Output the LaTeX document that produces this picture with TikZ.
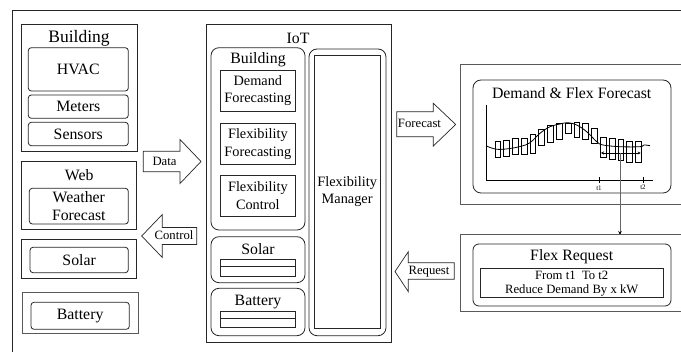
\documentclass[tikz,border=0pt]{standalone}
\usepackage{fontspec}
\setmainfont{Liberation Serif}
\usetikzlibrary{arrows.meta}
\begin{document}
\begin{tikzpicture}[x=1pt,y=-1pt,
  sq/.style={draw=black!85, line width=0.8pt, inner sep=0pt, outer sep=0pt},
  rnd/.style={sq, rounded corners=3pt},
  rndb/.style={sq, rounded corners=8pt},
  lbl/.style={inner sep=0pt, outer sep=0pt, align=center, font=\fontsize{15.8}{18.3}\selectfont},
  mid/.style={lbl, font=\fontsize{14.3}{17.7}\selectfont},
  sml/.style={lbl, font=\fontsize{12.7}{15.3}\selectfont},
  blockarrow/.style={draw=black!85, line width=0.7pt, fill=white},
  graybox/.style={draw=black!65, line width=1pt}]
\useasboundingbox (0,0) rectangle (681,352);
\fill[white] (0,0) rectangle (681,352);
\clip (0,0) rectangle (681,352);

% outer frame
\draw[sq] (12,360) -- (12,10) -- (690,10);

% ---------- left column ----------
\node[sq, minimum width=116pt, minimum height=127.4pt] (bld) at (79,88) {};
\node[lbl, font=\fontsize{17.5}{20}\selectfont] (bldt) at (79,38.5) {Building};
\node[rnd, minimum width=100pt, minimum height=43.3pt] (hvac) at (78.3,69.35) {};
\node[lbl] at (hvac) {HVAC};
\node[rnd, minimum width=100pt, minimum height=23.3pt] (meters) at (78.3,106.65) {};
\node[lbl] at (meters) {Meters};
\node[rnd, minimum width=100pt, minimum height=23.4pt] (sensors) at (78.3,134) {};
\node[lbl] at (sensors) {Sensors};

\node[sq, minimum width=115pt, minimum height=68.3pt] (web) at (79.2,195.15) {};
\node[lbl] (webt) at (79.2,175) {Web};
\node[rnd, minimum width=99pt, minimum height=35.7pt] (weather) at (78.8,206.15) {};
\node[lbl] at (weather) {Weather\\Forecast};

\node[sq, minimum width=115pt, minimum height=39pt] (solarL) at (79.2,258.8) {};
\node[rnd, minimum width=98.3pt, minimum height=25.4pt] (solarLi) at (79.15,260) {};
\node[lbl] at (solarLi) {Solar};

\node[graybox, inner sep=0pt, minimum width=116.3pt, minimum height=41pt] (batL) at (80.15,312.8) {};
\node[rnd, minimum width=98.3pt, minimum height=27pt] (batLi) at (80.15,315.8) {};
\node[lbl] at (batLi) {Battery};

% Data arrow
\draw[blockarrow] (143.3,151.2) -- (180,151.2) -- (180,139.5) -- (201,161.5) -- (180,183.5) -- (180,171.8) -- (143.3,171.8) -- cycle;
\node[sml] (data) at (164.5,161.5) {Data};
% Control arrow
\draw[blockarrow] (196.7,227.5) -- (162.3,227.5) -- (162.3,214.5) -- (141.7,236) -- (162.3,257.5) -- (162.3,244.5) -- (196.7,244.5) -- cycle;
\node[sml] (control) at (174,235.5) {Control};

% ---------- IoT ----------
\node[sq, minimum width=185.7pt, minimum height=318.4pt] (iot) at (298.85,183.5) {};
\node[lbl] (iott) at (298,38.3) {IoT};

\node[rndb, minimum width=94pt, minimum height=182.3pt] (iotb) at (258,138.85) {};
\node[lbl] (iotbt) at (258,59.3) {Building};
\node[sq, minimum width=74.3pt, minimum height=41pt] (dfc) at (257.85,90.5) {};
\node[mid] at (dfc) {Demand\\Forecasting};
\node[sq, minimum width=74.3pt, minimum height=41pt] (ffc) at (257.85,143.8) {};
\node[mid] at (ffc) {Flexibility\\Forecasting};
\node[sq, minimum width=74.3pt, minimum height=40.5pt] (fct) at (257.85,195.75) {};
\node[mid] at (fct) {Flexibility\\Control};

\node[rndb, minimum width=77pt, minimum height=286.7pt] (fmo) at (347.5,192.35) {};
\node[sq, minimum width=66.3pt, minimum height=272.6pt] (fmi) at (347.15,192) {};
\node[mid] at (347.15,191.5) {Flexibility\\Manager};

\node[rndb, minimum width=94pt, minimum height=46pt] (iots) at (258,259.7) {};
\node[lbl] (iotst) at (258,249.3) {Solar};
\node[sq, line width=0.7pt, minimum width=74.3pt, minimum height=7.4pt] (sb1) at (257.85,263) {};
\node[sq, line width=0.7pt, minimum width=74.3pt, minimum height=9.3pt] (sb2) at (257.85,271.35) {};

\node[rndb, minimum width=94pt, minimum height=47.4pt] (iotbat) at (258,312) {};
\node[lbl] (iotbatt) at (258,301.7) {Battery};
\node[sq, line width=0.7pt, minimum width=74.3pt, minimum height=7.3pt] (bb1) at (257.85,314.65) {};
\node[sq, line width=0.7pt, minimum width=74.3pt, minimum height=9.4pt] (bb2) at (257.85,323) {};

% Forecast arrow
\draw[blockarrow] (396.7,111.7) -- (433.3,111.7) -- (433.3,103.3) -- (455.7,124.5) -- (433.3,146) -- (433.3,136.7) -- (396.7,136.7) -- cycle;
\node[sml] (forecast) at (419.5,123.5) {Forecast};
% Request arrow
\draw[blockarrow] (454.3,262.7) -- (408.3,262.7) -- (408.3,251.7) -- (395,271.5) -- (408.3,291.7) -- (408.3,279.3) -- (454.3,279.3) -- cycle;
\node[sml] (request) at (429,271.5) {Request};

% ---------- right side ----------
\draw[graybox] (690,65) -- (460,65) -- (460,205) -- (690,205);
\node[rndb, minimum width=198pt, minimum height=113pt] (fcin) at (572,136.5) {};
\node[lbl] (fct2) at (571.7,93.3) {Demand \& Flex Forecast};

% chart
\draw[line width=0.7pt] (486,105) -- (486,180) -- (653,180);
\draw[line width=0.5pt] (599,177) -- (599,183);
\draw[line width=0.5pt] (643,177) -- (643,183);
\node[inner sep=0pt, font=\fontsize{7}{8}\selectfont] (t1) at (599,188) {t1};
\node[inner sep=0pt, font=\fontsize{7}{8}\selectfont] (t2) at (643,187.5) {t2};
\foreach \cx/\t/\b in {497.7/141/157, 506.5/140/156, 515.3/138/154, 524/138/154, 532.8/134/153,
  541.6/129/145, 550.4/125/142, 559.2/123/139, 568/123/133, 576.8/122/137, 585.6/123/139,
  594.4/128/143, 603.2/137/157, 612/138/159, 620.8/139/160, 629.6/141/162, 638.4/141/162}
  \draw[line width=0.6pt] (\cx-2.9,\t) rectangle (\cx+2.9,\b);
\draw[line width=0.8pt] plot[smooth, tension=0.6] coordinates {(486.5,146) (496.7,149.3) (510,148.5) (522,146) (530,142.7) (540,133.3) (550,126.7) (560,124) (568,122.7) (576.7,125) (586.7,131.7) (596.7,141.7) (603,145) (620,146.7) (640,146.7) (644,145) (650,145.7)};
\coordinate (ra) at (601,153);
\coordinate (rb) at (640.7,153);
\draw[line width=0.6pt, {Stealth[length=3pt,width=3pt]}-{Stealth[length=3pt,width=3pt]}] (ra) -- (rb);

\coordinate (src) at (620,153);
\coordinate (frtop) at (620,235);
\draw[draw=black!60, line width=0.8pt, -{Stealth[length=4pt,width=3.5pt,color=black]}] (src) -- (frtop);

\draw[graybox] (690,235) -- (460,235) -- (460,312) -- (690,312);
\node[sq, rounded corners=6pt, minimum width=198pt, minimum height=62pt] (frin) at (572,275) {};
\node[lbl] (frt) at (571.7,256.7) {Flex Request};
\node[sq, minimum width=183pt, minimum height=29pt] (frbox) at (571.5,282.5) {};
\node[sml] at (571.7,275.7) {From t1~~To t2};
\node[sml] at (571.7,290.5) {Reduce Demand By x kW};
\end{tikzpicture}
\end{document}
